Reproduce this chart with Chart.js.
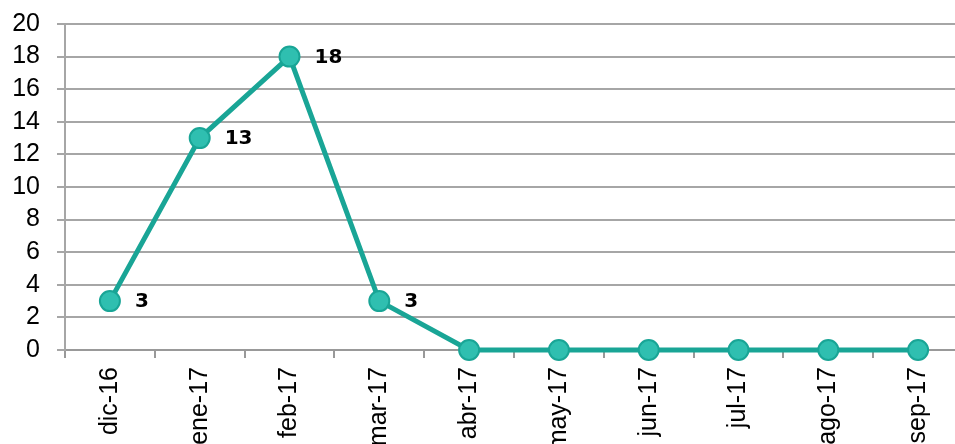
<!DOCTYPE html>
<html><head><meta charset="utf-8">
<script src="https://cdn.jsdelivr.net/npm/chart.js@4"></script>
<style>html,body{margin:0;padding:0;overflow:hidden;background:#fff;width:955px;height:444px}
#wrap{position:absolute;left:0;top:0;width:975px;height:480px}</style>
</head><body>
<div id="wrap"><canvas id="c" width="975" height="480"></canvas></div>
<script>
const categories = ["dic-16","ene-17","feb-17","mar-17","abr-17","may-17","jun-17","jul-17","ago-17","sep-17"];
const values = [3,13,18,3,0,0,0,0,0,0];
const yTicks = [0,2,4,6,8,10,12,14,16,18,20];

const labelPlugin = {
  id:'vlabels',
  afterDatasetsDraw(chart){
    const ctx = chart.ctx;
    const meta = chart.getDatasetMeta(0);
    ctx.save();
    ctx.font = 'bold 20px "DejaVu Sans", sans-serif';
    ctx.fillStyle = '#000';
    ctx.textAlign = 'left';
    ctx.textBaseline = 'middle';
    meta.data.forEach((pt,i)=>{
      if (values[i] > 0) ctx.fillText(String(values[i]), pt.x + 25, pt.y + 1);
    });
    ctx.restore();
  }
};

new Chart(document.getElementById('c'), {
  type:'line',
  data:{labels:categories, datasets:[{
    data:values,
    borderColor:'#19a596',
    borderWidth:5,
    pointRadius:10,
    pointBackgroundColor:'#2fbfb0',
    pointBorderColor:'#19a596',
    pointBorderWidth:2,
    tension:0,
    clip:false
  }]},
  options:{
    responsive:false, animation:false,
    layout:{padding:{top:24,left:0,right:10,bottom:0}},
    plugins:{legend:{display:false},tooltip:{enabled:false}},
    scales:{
      x:{
        offset:true,
        grid:{offset:true,drawOnChartArea:false,drawTicks:true,tickLength:8,color:'#999',lineWidth:2},
        border:{color:'#999',width:2},
        ticks:{maxRotation:90,minRotation:90,padding:9,autoSkip:false,color:'#000',font:{family:'"Liberation Sans", Arial, sans-serif',size:25}},
        afterFit(s){ s.height = 130; }
      },
      y:{
        min:0,max:20,
        afterBuildTicks(s){ s.ticks = yTicks.map(v=>({value:v})); },
        grid:{color:'#a6a6a6',lineWidth:2,tickLength:8},
        border:{color:'#a6a6a6',width:2},
        ticks:{padding:17,autoSkip:false,color:'#000',font:{family:'"Liberation Sans", Arial, sans-serif',size:25,lineHeight:1}},
        afterFit(s){ s.width = 65; s.paddingTop = 0; s.paddingBottom = 0; }
      }
    }
  },
  plugins:[labelPlugin]
});
</script>
</body></html>
